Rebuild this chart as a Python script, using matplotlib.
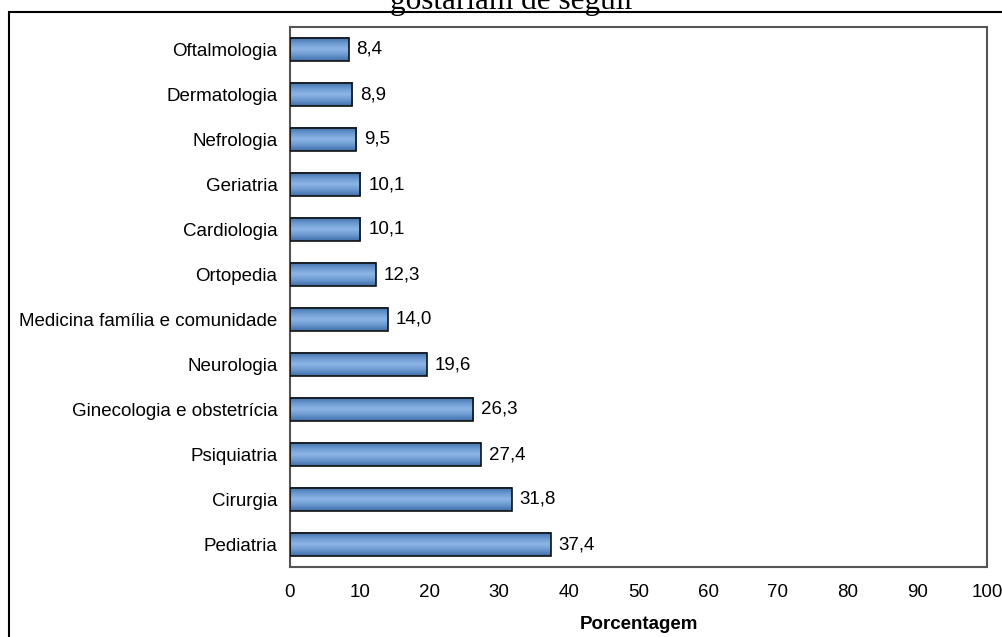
import numpy as np
import matplotlib
matplotlib.use("Agg")
import matplotlib.pyplot as plt
from matplotlib.patches import Rectangle
from matplotlib.colors import LinearSegmentedColormap

categories = ["Pediatria", "Cirurgia", "Psiquiatria", "Ginecologia e obstetrícia",
              "Neurologia", "Medicina família e comunidade", "Ortopedia",
              "Cardiologia", "Geriatria", "Nefrologia", "Dermatologia", "Oftalmologia"]
values = [37.4, 31.8, 27.4, 26.3, 19.6, 14.0, 12.3, 10.1, 10.1, 9.5, 8.9, 8.4]
xticks = [0, 10, 20, 30, 40, 50, 60, 70, 80, 90, 100]

plt.rcParams["font.family"] = ["Liberation Sans", "DejaVu Sans"]
FS = 13.5

W, H = 1003, 637
fig = plt.figure(figsize=(W / 100, H / 100), dpi=100)
ax = fig.add_axes([290 / W, 1 - 567 / H, (987 - 290) / W, (567 - 27) / H])

# vertical gradient for the bars: darker edges, lighter centre
grad_cmap = LinearSegmentedColormap.from_list(
    "barfill", ["#3f6fa8", "#6a98cf", "#8db6e6", "#6a98cf", "#3f6fa8"])
grad = np.linspace(0, 1, 64).reshape(-1, 1)

bar_h = 0.53
ypos = np.arange(len(categories))
for y, v in zip(ypos, values):
    ax.imshow(grad, cmap=grad_cmap, aspect="auto", interpolation="bilinear",
              extent=[0, v, y - bar_h / 2, y + bar_h / 2], zorder=2)
    ax.add_patch(Rectangle((0, y - bar_h / 2), v, bar_h, fill=False,
                           edgecolor="#111111", linewidth=1.2, zorder=3))
    ax.text(v + 1.15, y, f"{v:.1f}".replace(".", ","), va="center", ha="left",
            fontsize=FS, color="black", zorder=4)

ax.set_xlim(0, 100)
ax.set_ylim(-0.5, len(categories) - 0.5)
ax.set_xticks(xticks)
ax.set_xticklabels([str(t) for t in xticks], fontsize=FS)
ax.set_yticks(ypos)
ax.set_yticklabels(categories, fontsize=FS)
ax.tick_params(axis="both", length=0)
ax.tick_params(axis="x", pad=12)
ax.tick_params(axis="y", pad=9)
for s in ax.spines.values():
    s.set_color("#555555")
    s.set_linewidth(1.5)
ax.set_xlabel("Porcentagem", fontsize=FS, fontweight="bold", labelpad=11)

# outer frame and partially visible heading
fig.patches.append(Rectangle((9 / W, -0.1), 1.1, 1 - 12 / H + 0.1, fill=False,
                             edgecolor="black", linewidth=1.5,
                             transform=fig.transFigure))
fig.text(512 / W, 1 - 9 / H, "gostariam de seguir", ha="center", va="baseline",
         fontsize=22.5, family=["Liberation Serif", "DejaVu Serif"])

fig.savefig("out.png", dpi=100)
